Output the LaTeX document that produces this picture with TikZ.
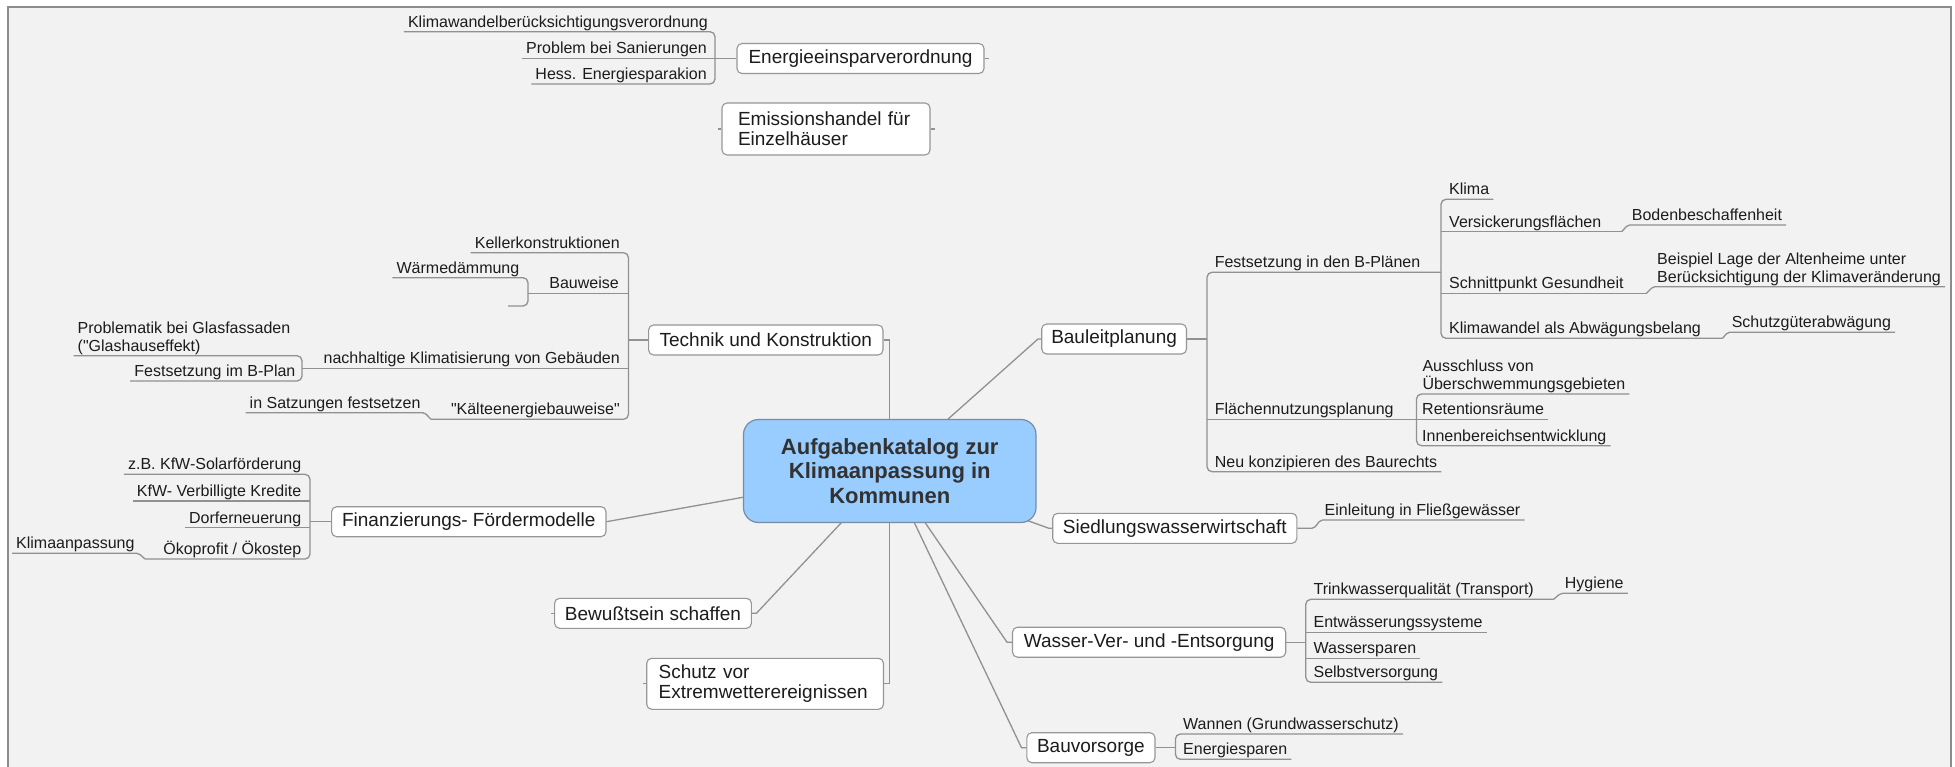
\documentclass[tikz,border=0pt]{standalone}
\usepackage{fontspec}
\setmainfont{Liberation Sans}[Ligatures=TeXOff]
\usetikzlibrary{calc}
\definecolor{bgc}{RGB}{242,242,242}
\definecolor{framec}{RGB}{140,140,140}
\definecolor{linec}{RGB}{145,145,145}
\definecolor{boxc}{RGB}{150,150,150}
\definecolor{txtc}{RGB}{28,28,28}
\definecolor{cfill}{RGB}{153,204,255}
\definecolor{cline}{RGB}{120,140,165}
\definecolor{ctext}{RGB}{50,50,50}
\begin{document}
\begin{tikzpicture}[x=1pt,y=-1pt,
  topic/.style={draw=boxc, fill=white, line width=1.1pt, rounded corners=5pt, inner sep=0pt,
    minimum height=30pt, font=\fontsize{19}{20}\selectfont, text=txtc},
  central/.style={draw=cline, fill=cfill, line width=1.2pt, rounded corners=15pt, inner sep=0pt,
    minimum width=292.5pt, minimum height=103pt, align=center,
    font=\fontsize{22}{24.5}\selectfont\bfseries, text=ctext},
  leaf/.style={inner xsep=4pt, inner ysep=0pt, text height=11.5pt, text depth=4.5pt,
    font=\fontsize{16}{18}\selectfont, text=txtc},
  leaftwo/.style={inner xsep=4pt, inner ysep=1pt, align=left,
    font=\fontsize{16}{17.8}\selectfont, text=txtc},
  conn/.style={draw=linec, line width=1.3pt},
  brk/.style={conn, rounded corners=5pt},
  elb/.style={conn, rounded corners=2pt}]
\useasboundingbox (0,0) rectangle (1955,766);
\fill[white] (0,0) rectangle (1955,766);
\fill[bgc] (8,7) rectangle (1951,770);
\draw[framec, line width=1.6pt] (8,770) -- (8,7) -- (1951,7) -- (1951,770);

\coordinate (cc) at (889.75,471);

% main topics
\node[topic, minimum width=247pt] (ee) at (860.5,58.5) {Energieeinsparverordnung};
\node[topic, minimum width=208pt, minimum height=52pt, text width=176pt, inner xsep=16pt, align=left] (em) at (826,129) {Emissionshandel für\\Einzelhäuser};
\node[topic, minimum width=234.4pt] (tk) at (765.8,340) {Technik und Konstruktion};
\node[topic, minimum width=274.4pt] (fi) at (468.8,521.7) {Finanzierungs- Fördermodelle};
\node[topic, minimum width=196.8pt] (bw) at (653,613.3) {Bewußtsein schaffen};
\node[topic, minimum width=236.8pt, minimum height=51pt, text width=213pt, inner xsep=11.9pt, align=left] (sx) at (765.1,683.8) {Schutz vor\\Extremwetterereignissen};
\node[topic, minimum width=144.8pt] (bl) at (1114.1,339) {Bauleitplanung};
\node[topic, minimum width=244.2pt] (sw) at (1174.8,528.3) {Siedlungswasserwirtschaft};
\node[topic, minimum width=273.2pt] (wv) at (1149.1,642.2) {Wasser-Ver- und -Entsorgung};
\node[topic, minimum width=128.2pt] (bv) at (1090.9,747.7) {Bauvorsorge};

% connectors from the centre
\coordinate (bwp) at (756.4,613.3);
\coordinate (blp) at (1038,339);
\coordinate (swp) at (1049,528.3);
\coordinate (wvp) at (1007,642.2);
\coordinate (bvp) at (1021.5,747.7);
\draw[conn] (cc) |- (tk.east);
\draw[conn] (cc) |- (sx.east);
\draw[conn] (cc) -- (fi.east);
\draw[conn] (cc) -- (bwp) -- (bw.east);
\draw[conn] (cc) -- (blp) -- (bl.west);
\draw[conn] (cc) -- (swp) -- (sw.west);
\draw[conn] (cc) -- (wvp) -- (wv.west);
\draw[conn] (cc) -- (bvp) -- (bv.west);

% small stubs
\draw[conn] (ee.east) -- ++(4,0);
\draw[conn] (em.west) -- ++(-3,0);
\draw[conn] (em.east) -- ++(4,0);
\draw[conn] (bw.west) -- ++(-3,0);
\draw[conn] (sx.west) -- ++(-3,0);

% Energieeinsparverordnung cluster
\node[leaf, anchor=south east] (kw) at (712,31.7) {Klimawandelberücksichtigungsverordnung};
\node[leaf, anchor=south east] (pb) at (711,58.5) {Problem bei Sanierungen};
\node[leaf, anchor=south east] (he) at (711,84) {Hess. Energiesparakion};
\coordinate (eex) at (715,58.5);
\draw[brk] (kw.south west) -- (kw.south -| eex) -- (he.south -| eex) -- (he.south west);
\draw[conn] (pb.south west) -- (ee.west);

% Technik cluster
\coordinate (tkx) at (628.5,340);
\node[leaf, anchor=south east] (kel) at (624,252.7) {Kellerkonstruktionen};
\node[leaf, anchor=south east] (bau) at (623,293.3) {Bauweise};
\node[leaf, anchor=south east] (wd) at (523.5,277.7) {Wärmedämmung};
\coordinate (wdx) at (528,293.3);
\coordinate (emp) at (508,306);
\node[leaf, anchor=south east] (nk) at (624,368.3) {nachhaltige Klimatisierung von Gebäuden};
\node[leaftwo, anchor=south west] (pg) at (73.5,355.7) {Problematik bei Glasfassaden\\("Glashauseffekt)};
\node[leaf, anchor=south east] (fb) at (299.6,381) {Festsetzung im B-Plan};
\coordinate (pgx) at (302,368.3);
\node[leaf, anchor=south east] (ks) at (624,419.3) {"Kälteenergiebauweise"};
\node[leaf, anchor=south east] (is) at (424.7,412.7) {in Satzungen festsetzen};
\coordinate (ise) at (431,419.3);
\draw[brk] (kel.south west) -- (kel.south -| tkx) -- (ks.south -| tkx) -- (ise);
\draw[elb] (is.south west) -- (is.south east) -- (ise);
\draw[conn] (wdx) -- (bau.south -| tkx);
\draw[brk] (wd.south west) -- (wd.south -| wdx) -- (emp -| wdx) -- (emp);
\draw[conn] (nk.south -| pgx) -- (nk.south -| tkx);
\draw[brk] (pg.south west) -- (pg.south -| pgx) -- (fb.south -| pgx) -- (fb.south west);
\draw[conn] (tkx) -- (tk.west);

% Finanzierung cluster
\coordinate (fix) at (310,521.7);
\node[leaf, anchor=south east] (zb) at (305.4,474.3) {z.B. KfW-Solarförderung};
\node[leaf, anchor=south east] (kv) at (305.4,501) {KfW- Verbilligte Kredite};
\node[leaf, anchor=south east] (df) at (305.4,527.7) {Dorferneuerung};
\node[leaf, anchor=south east] (ok) at (305.4,559) {Ökoprofit / Ökostep};
\node[leaf, anchor=south east] (ka) at (138.7,553.3) {Klimaanpassung};
\coordinate (oke) at (145,559);
\draw[brk] (zb.south west) -- (zb.south -| fix) -- (ok.south -| fix) -- (oke);
\draw[conn] (kv.south west) -- (kv.south -| fix);
\draw[conn] (df.south west) -- (df.south -| fix);
\draw[conn] (fix) -- (fi.west);
\draw[elb] (ka.south west) -- (ka.south east) -- (oke);

% Bauleitplanung cluster
\coordinate (blx) at (1207,339);
\coordinate (fsx) at (1441,272.3);
\node[leaf, anchor=south west] (fs) at (1210.6,272.3) {Festsetzung in den B-Plänen};
\node[leaf, anchor=south west] (kl) at (1445,199.3) {Klima};
\node[leaf, anchor=south west] (vf) at (1445,231.7) {Versickerungsflächen};
\node[leaf, anchor=south west] (bo) at (1627.7,225) {Bodenbeschaffenheit};
\node[leaf, anchor=south west] (sg) at (1445,293.3) {Schnittpunkt Gesundheit};
\node[leaftwo, anchor=south west] (bs) at (1653,286.7) {Beispiel Lage der Altenheime unter\\Berücksichtigung der Klimaveränderung};
\node[leaf, anchor=south west] (kwb) at (1445,338.3) {Klimawandel als Abwägungsbelang};
\node[leaf, anchor=south west] (sa) at (1727.6,332.3) {Schutzgüterabwägung};
\node[leaf, anchor=south west] (fn) at (1210.6,419.3) {Flächennutzungsplanung};
\coordinate (fnx) at (1416.5,419.3);
\node[leaftwo, anchor=south west] (au) at (1418.3,394) {Ausschluss von\\Überschwemmungsgebieten};
\node[leaf, anchor=south west] (rr) at (1418,419.3) {Retentionsräume};
\node[leaf, anchor=south west] (ie) at (1418,445.7) {Innenbereichsentwicklung};
\node[leaf, anchor=south west] (nb) at (1210.6,471.7) {Neu konzipieren des Baurechts};
\coordinate (vfe) at (1621.7,231.7);
\coordinate (sge) at (1646.5,293.3);
\coordinate (kwe) at (1722.6,338.3);
\draw[conn] (bl.east) -- (blx);
\draw[brk] (fsx) -- (fs.south -| blx) -- (nb.south -| blx) -- (nb.south east);
\draw[brk] (kl.south east) -- (kl.south -| fsx) -- (kwb.south -| fsx) -- (kwe);
\draw[conn] (vf.south -| fsx) -- (vfe);
\draw[elb] (vfe) -- (bo.south west) -- (bo.south east);
\draw[conn] (sg.south -| fsx) -- (sge);
\draw[elb] (sge) -- (bs.south west) -- (bs.south east);
\draw[elb] (kwe) -- (sa.south west) -- (sa.south east);
\draw[conn] (fn.south -| blx) -- (fnx);
\draw[brk] (au.south east) -- (au.south -| fnx) -- (ie.south -| fnx) -- (ie.south east);
\draw[conn] (fnx) -- (rr.south east);

% Siedlungswasserwirtschaft
\node[leaf, anchor=south west] (el) at (1320.5,520) {Einleitung in Fließgewässer};
\coordinate (swe) at (1314,528.3);
\draw[elb] (sw.east) -- (swe) -- (el.south west) -- (el.south east);

% Wasser-Ver- und -Entsorgung
\coordinate (wvx) at (1305.8,642.2);
\node[leaf, anchor=south west] (tw) at (1309.4,599.3) {Trinkwasserqualität (Transport)};
\coordinate (twe) at (1553.5,599.3);
\node[leaf, anchor=south west] (hy) at (1560.7,593.3) {Hygiene};
\node[leaf, anchor=south west] (ew) at (1309.4,632.3) {Entwässerungssysteme};
\node[leaf, anchor=south west] (wsp) at (1309.4,658.3) {Wassersparen};
\node[leaf, anchor=south west] (sv) at (1309.4,682.3) {Selbstversorgung};
\draw[brk] (twe) -- (tw.south -| wvx) -- (sv.south -| wvx) -- (sv.south east);
\draw[conn] (wv.east) -- (wvx);
\draw[conn] (ew.south -| wvx) -- (ew.south east);
\draw[conn] (wsp.south -| wvx) -- (wsp.south east);
\draw[elb] (twe) -- (hy.south west) -- (hy.south east);

% Bauvorsorge
\coordinate (bvx) at (1175.4,747.7);
\node[leaf, anchor=south west] (wa) at (1179,734) {Wannen (Grundwasserschutz)};
\node[leaf, anchor=south west] (es) at (1179,759.3) {Energiesparen};
\draw[brk] (wa.south east) -- (wa.south -| bvx) -- (es.south -| bvx) -- (es.south east);
\draw[conn] (bv.east) -- (bvx);

% central topic on top
\node[central] (c) at (cc) {Aufgabenkatalog zur\\Klimaanpassung in\\Kommunen};
\end{tikzpicture}
\end{document}
